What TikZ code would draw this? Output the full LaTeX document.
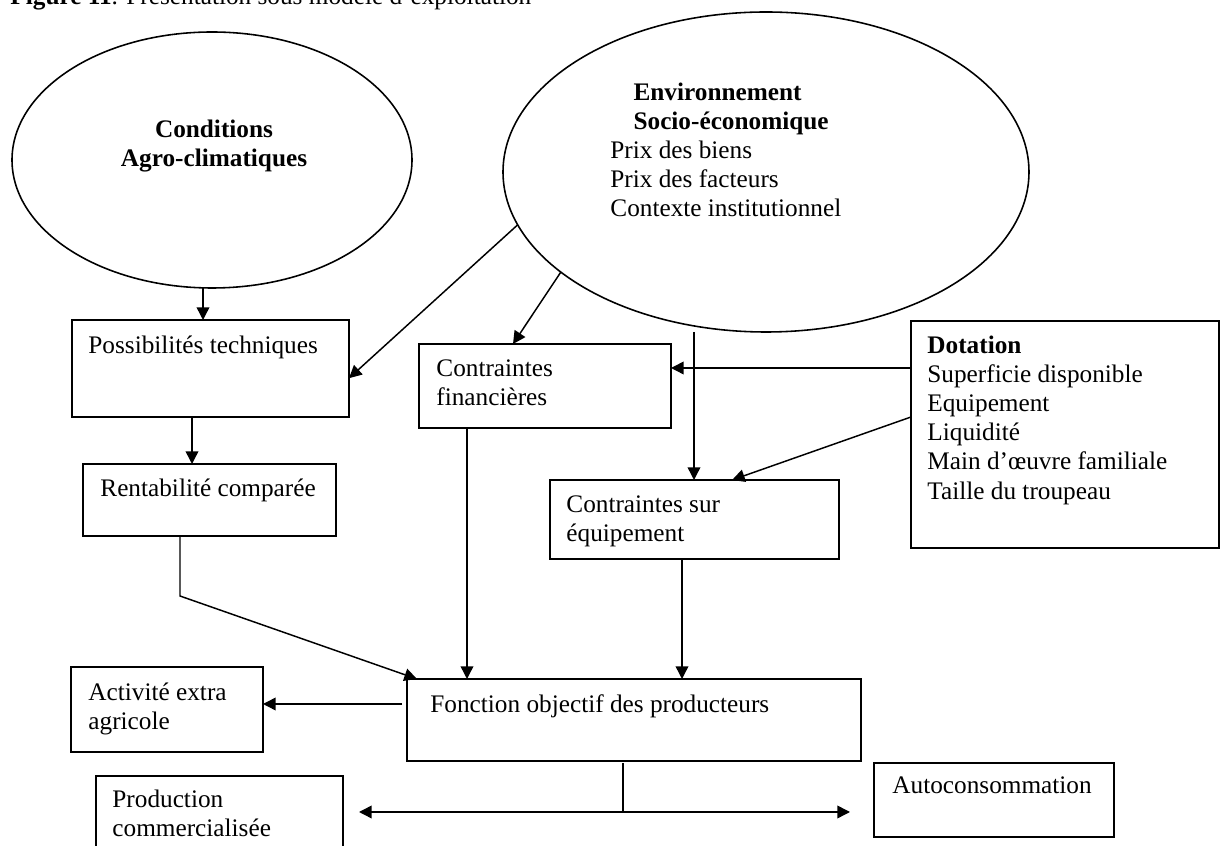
\documentclass[tikz,border=0pt]{standalone}
\usepackage{fontspec}
\setmainfont{Liberation Serif}
\usetikzlibrary{arrows.meta,shapes.geometric,fit,calc}

\newcommand{\px}{0.475pt}

\tikzset{
  every node/.style={font=\fontsize{12}{13.8}\selectfont},
  panel/.style={draw, line width=0.75pt, inner sep=0pt, outer sep=0pt},
  bubble/.style={draw, ellipse, line width=0.75pt, inner sep=0pt, outer sep=0pt},
  lbl/.style={anchor=north west, align=left, inner sep=0pt},
  link/.style={line width=0.7pt},
  arr/.style={link, -{Triangle[length=6pt,width=6pt]}},
  arrboth/.style={link, {Triangle[length=6pt,width=6pt]}-{Triangle[length=6pt,width=6pt]}}
}

\begin{document}
\begin{tikzpicture}[x=\px, y=-\px]
    \useasboundingbox (0,0) rectangle (1221,846);

    % Title, cut by the top edge
    \node[anchor=base west, inner sep=0pt] (title) at (10,5)
        {\textbf{Figure 11}. Présentation sous modèle d’exploitation};

    % The two ellipses
    \node[bubble, minimum width=400*\px, minimum height=256*\px] (cond) at (212,160) {};
    \node[lbl, anchor=north, align=center] (condT) at (214,117)
        {\strut\textbf{Conditions}\\\textbf{Agro-climatiques}};

    \node[bubble, minimum width=526*\px, minimum height=320*\px] (env) at (766,172) {};
    \node[lbl] (envT) at (610,80)
        {\strut\hspace*{11pt}\textbf{Environnement}\\\hspace*{11pt}\textbf{Socio-économique}\\
         Prix des biens\\Prix des facteurs\\Contexte institutionnel};

    % Boxes
    \node[panel, fit={(72,320) (349,417)}] (poss) {};
    \node[panel, fit={(83,464) (336,536)}] (rent) {};
    \node[panel, fit={(419,344) (671,428)}] (fin) {};
    \node[panel, fit={(550,480) (839,559)}] (equip) {};
    \node[panel, fit={(911,321) (1219,548)}] (dot) {};
    \node[panel, fit={(71,667) (263,752)}] (activ) {};
    \node[panel, fit={(407,679) (861,761)}] (fonc) {};
    \node[panel, fit={(96,776) (343,870)}] (prod) {};
    \node[panel, fit={(874,763) (1114,837)}] (auto) {};

    % Box texts
    \node[lbl] (possT) at ([shift={(16,13)}]poss.north west) {\strut Possibilités techniques};
    \node[lbl] (rentT) at ([shift={(17,12)}]rent.north west) {\strut Rentabilité comparée};
    \node[lbl] (finT) at ([shift={(17,12)}]fin.north west) {\strut Contraintes\\financières};
    \node[lbl] (equipT) at ([shift={(16,12)}]equip.north west) {\strut Contraintes sur\\équipement};
    \node[lbl] (dotT) at ([shift={(16,12)}]dot.north west)
        {\strut\textbf{Dotation}\\Superficie disponible\\Equipement\\Liquidité\\
         Main d’œuvre familiale\\Taille du troupeau};
    \node[lbl] (activT) at ([shift={(17,13)}]activ.north west) {\strut Activité extra\\agricole};
    \node[lbl] (foncT) at ([shift={(23,13)}]fonc.north west) {\strut Fonction objectif des producteurs};
    \node[lbl] (prodT) at ([shift={(16,11)}]prod.north west) {\strut Production\\commercialisée};
    \node[lbl] (autoT) at ([shift={(18,10)}]auto.north west) {\strut Autoconsommation};

    % Arrows from the ellipses
    \draw[arr] (cond.south -| 203,0) -- (poss.north -| 203,0);
    \draw[arr] (env.192) -- ($(poss.north east)!0.6!(poss.south east)$);
    \draw[arr] (env.206) -- ($(fin.north west)!0.373!(fin.north east)$);
    \coordinate (envfoot) at (694,332);
    \draw[arr] (envfoot) -- (equip.north -| envfoot);

    % Arrows from Dotation
    \draw[arr] (dot.west |- 0,368) -- (fin.east |- 0,368);
    \draw[arr] (dot.west |- 0,417) -- ($(equip.north west)!0.63!(equip.north east)$);

    % Left column
    \draw[arr] (poss.south -| 192,0) -- (rent.north -| 192,0);
    \coordinate (bend) at (180,596);
    \draw[arr] (rent.south -| bend) -- (bend) -- ($(fonc.north west)+(10,0)$);

    % Into the objective function
    \draw[arr] (fin.south -| 467,0) -- (fonc.north -| 467,0);
    \draw[arr] (equip.south -| 682,0) -- (fonc.north -| 682,0);
    \draw[arr] ($(fonc.west |- 0,704)+(-5,0)$) -- (activ.east |- 0,704);

    % Split of the production
    \coordinate (split) at (623,813);
    \coordinate (sellL) at (359,812);
    \coordinate (sellR) at (850,812);
    \draw[link] ($(fonc.south -| split)+(0,2)$) -- (split);
    \draw[arrboth] (sellL) -- (sellR);
\end{tikzpicture}
\end{document}
